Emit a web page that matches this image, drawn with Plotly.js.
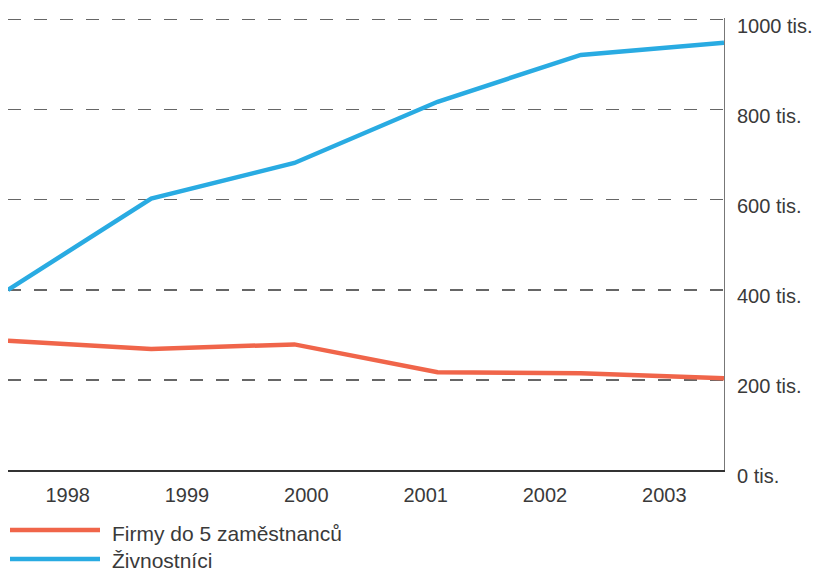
<!DOCTYPE html>
<html>
<head>
<meta charset="utf-8">
<script src="https://cdn.plot.ly/plotly-3.0.1.min.js"></script>
<style>
  html, body { margin: 0; padding: 0; background: #fff; }
  #chart { width: 815px; height: 574px; }
</style>
</head>
<body>
<div id="chart"></div>
<script>
// ---- data ----
const years = ['1998', '1999', '2000', '2001', '2002', '2003'];
const firmy = [287, 269, 279, 217, 215, 204];          // Firmy do 5 zaměstnanců (tis.)
const zivnostnici = [400, 603, 682, 818, 922, 949];    // Živnostníci (tis.)
const yTicks = [0, 200, 400, 600, 800, 1000];
const yTickText = yTicks.map(v => v + ' tis.');
const seriesNames = ['Firmy do 5 zaměstnanců', 'Živnostníci'];
const seriesColors = ['#f0654a', '#29abe2'];

// ---- layout constants ----
const W = 815, H = 574;
const M = { l: 8, r: 91, t: 18, b: 104 };
const plotW = W - M.l - M.r, plotH = H - M.t - M.b;
const px2x = px => (px - M.l) / plotW;
const py2y = py => (H - M.b - py) / plotH;

const idx = years.map((_, i) => i);
const FONT = { family: '"Liberation Sans", Arial, sans-serif', size: 20, color: '#3a3a3a' };
const LEGFONT = { family: '"Liberation Sans", Arial, sans-serif', size: 21, color: '#3a3a3a' };

const traces = [
  { x: idx, y: firmy, name: seriesNames[0], type: 'scatter', mode: 'lines',
    line: { color: seriesColors[0], width: 4.5 }, xaxis: 'x', yaxis: 'y', hoverinfo: 'y' },
  { x: idx, y: zivnostnici, name: seriesNames[1], type: 'scatter', mode: 'lines',
    line: { color: seriesColors[1], width: 4.5 }, xaxis: 'x', yaxis: 'y', hoverinfo: 'y' },
  // invisible carrier for the year-label axis
  { x: idx, y: idx.map(() => null), type: 'scatter', mode: 'lines', xaxis: 'x2', yaxis: 'y',
    showlegend: false, hoverinfo: 'skip' }
];

// manual legend with long line samples
const legendRows = [530, 559];
const legendTextRows = [533, 560];
const shapes = seriesNames.map((n, i) => ({
  type: 'line', xref: 'paper', yref: 'paper',
  x0: px2x(10), x1: px2x(100), y0: py2y(legendRows[i]), y1: py2y(legendRows[i]),
  line: { color: seriesColors[i], width: 4.5 }
}));
const annotations = seriesNames.map((n, i) => ({
  text: n, xref: 'paper', yref: 'paper', x: px2x(110), y: py2y(legendTextRows[i]),
  xanchor: 'left', yanchor: 'middle', showarrow: false, font: LEGFONT
}));

const layout = {
  width: W, height: H,
  margin: M,
  paper_bgcolor: '#fff', plot_bgcolor: '#fff',
  showlegend: false,
  font: FONT,
  xaxis: {
    range: [0, years.length - 1], showgrid: false, zeroline: false,
    showticklabels: false, ticks: '',
    showline: true, linecolor: '#333', linewidth: 1.5, fixedrange: true
  },
  xaxis2: {
    overlaying: 'x', side: 'bottom', anchor: 'y',
    range: [-0.5, years.length - 0.5], tickvals: idx, ticktext: years,
    showgrid: false, zeroline: false, showline: false, ticks: '',
    tickfont: FONT, ticklabelstandoff: 11, fixedrange: true
  },
  yaxis: {
    side: 'right', range: [0, 1004], tickvals: yTicks, ticktext: yTickText,
    showgrid: true, gridcolor: '#666', gridwidth: 1.2, griddash: '13px,13px',
    zeroline: false, showline: true, linecolor: '#777', linewidth: 1,
    ticks: '', tickfont: FONT, ticklabelstandoff: 8, ticklabelshift: 6, fixedrange: true
  },
  shapes: shapes,
  annotations: annotations
};

Plotly.newPlot('chart', traces, layout, { staticPlot: true, displayModeBar: false });
</script>
</body>
</html>
